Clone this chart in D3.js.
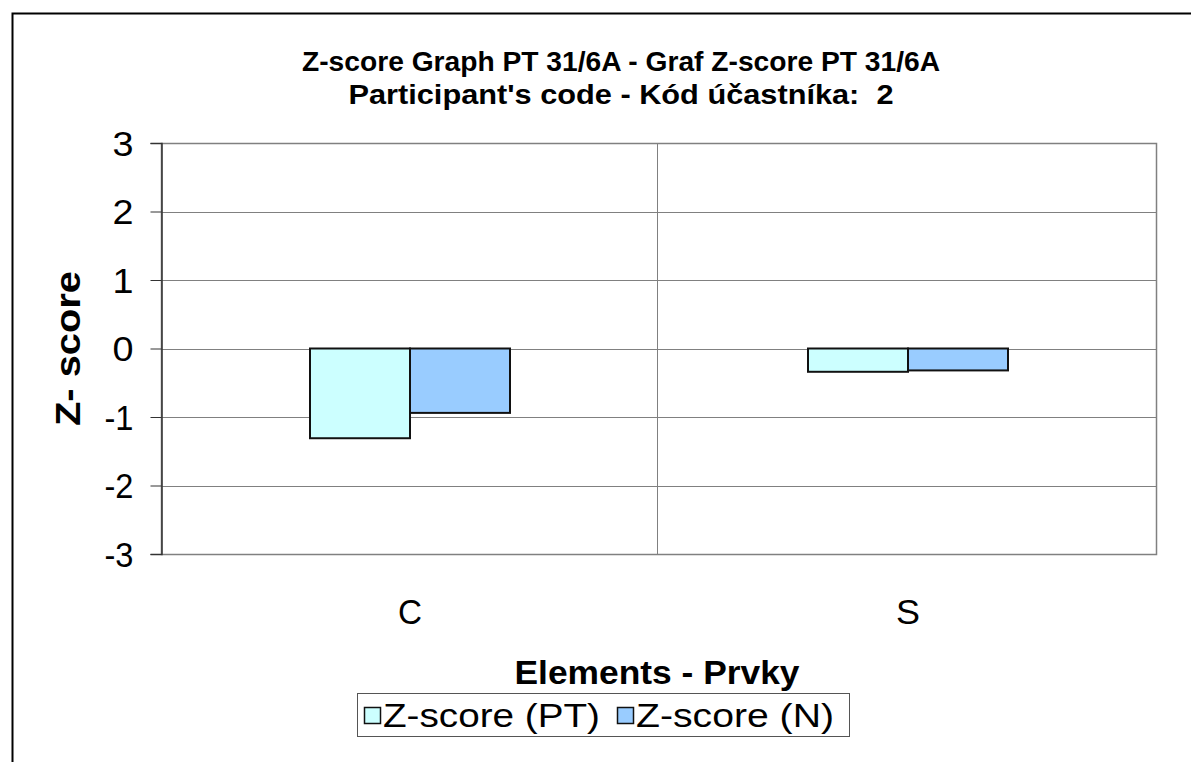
<!DOCTYPE html>
<html>
<head>
<meta charset="utf-8">
<script src="https://cdn.jsdelivr.net/npm/d3@7"></script>
<style>
  body { margin: 0; background: #fff; }
  text { font-family: "Liberation Sans", Arial, sans-serif; }
</style>
</head>
<body>
<script>
let w = 1191;
let h = 762;

// Data
let categories = ["C", "S"];
let seriesNames = ["Z-score (PT)", "Z-score (N)"];
let seriesColors = ["#ccffff", "#99ccff"];
let valuesPT = [-1.31, -0.34];
let valuesN = [-0.94, -0.32];
let yTicks = [-3, -2, -1, 0, 1, 2, 3];

let seriesValues = [valuesPT, valuesN];

// Plot area
let pLeft = 161, pRight = 1157, pTop = 143, pBottom = 554;

let xScale = d3.scaleBand()
  .domain(categories)
  .range([pLeft, pRight]);

let xInner = d3.scaleBand()
  .domain(d3.range(seriesNames.length))
  .range([0, xScale.bandwidth()])
  .paddingOuter(1.49);

let yScale = d3.scaleLinear()
  .domain([-3, 3])
  .range([pBottom, pTop]);

let svg = d3.select("body")
  .append("svg")
  .attr("width", w)
  .attr("height", h);

// outer frame (only top and left visible)
svg.append("path")
  .attr("d", "M12.5," + h + " V13.5 H" + w)
  .attr("fill", "none")
  .attr("stroke", "#000")
  .attr("stroke-width", 2);

// gridlines
svg.selectAll(".grid")
  .data(yTicks)
  .enter()
  .append("line")
  .attr("x1", pLeft)
  .attr("x2", pRight)
  .attr("y1", (d) => Math.round(yScale(d)) + 0.5)
  .attr("y2", (d) => Math.round(yScale(d)) + 0.5)
  .attr("stroke", "#808080")
  .attr("stroke-width", 1);

// category separator
svg.append("line")
  .attr("x1", xScale("S") - 1.5)
  .attr("x2", xScale("S") - 1.5)
  .attr("y1", pTop)
  .attr("y2", pBottom)
  .attr("stroke", "#808080")
  .attr("stroke-width", 1);

// plot border
svg.append("rect")
  .attr("x", pLeft + 0.5)
  .attr("y", Math.round(pTop) + 0.5)
  .attr("width", pRight - pLeft - 1)
  .attr("height", Math.round(pBottom) - Math.round(pTop))
  .attr("fill", "none")
  .attr("stroke", "#808080")
  .attr("stroke-width", 1.5);

// y axis
let yAxis = d3.axisLeft(yScale)
  .tickValues(yTicks)
  .tickSize(11)
  .tickPadding(17)
  .tickFormat((d) => String(d));

let gy = svg.append("g")
  .attr("transform", "translate(" + (pLeft + 0.5) + ",0)")
  .call(yAxis);
gy.select(".domain").attr("stroke", "#333").attr("stroke-width", 1.5);
gy.selectAll(".tick line").attr("stroke", "#333");
gy.selectAll(".tick text")
  .attr("font-size", "35px")
  .attr("fill", "#000")
  .attr("font-family", "'Liberation Sans', Arial, sans-serif")
  .attr("dy", "0.35em")
  .attr("textLength", (d) => d < 0 ? 29 : 21)
  .attr("lengthAdjust", "spacingAndGlyphs");

// bars
seriesValues.forEach((vals, s) => {
  svg.selectAll(".bar" + s)
    .data(vals)
    .enter()
    .append("rect")
    .attr("x", (d, i) => xScale(categories[i]) + xInner(s))
    .attr("y", (d) => yScale(Math.max(0, d)))
    .attr("width", xInner.bandwidth())
    .attr("height", (d) => Math.abs(yScale(d) - yScale(0)))
    .attr("fill", seriesColors[s])
    .attr("stroke", "#111")
    .attr("stroke-width", 2);
});

// x labels
svg.selectAll(".xlab")
  .data(categories)
  .enter()
  .append("text")
  .attr("x", (d) => xScale(d) + xScale.bandwidth() / 2)
  .attr("y", 624)
  .attr("text-anchor", "middle")
  .attr("font-size", "35px")
  .attr("textLength", 24)
  .attr("lengthAdjust", "spacingAndGlyphs")
  .text((d) => d);

// titles
svg.append("text")
  .attr("x", 621)
  .attr("y", 71)
  .attr("text-anchor", "middle")
  .attr("font-size", "27px")
  .attr("font-weight", "bold")
  .attr("textLength", 638)
  .attr("lengthAdjust", "spacingAndGlyphs")
  .text("Z-score Graph PT 31/6A - Graf Z-score PT 31/6A");

svg.append("text")
  .attr("x", 621)
  .attr("y", 104)
  .attr("text-anchor", "middle")
  .attr("font-size", "27px")
  .attr("font-weight", "bold")
  .attr("textLength", 545)
  .attr("lengthAdjust", "spacingAndGlyphs")
  .style("white-space", "pre")
  .text("Participant's code - Kód účastníka:  2");

svg.append("text")
  .attr("transform", "translate(80," + yScale(0) + ") rotate(-90)")
  .attr("text-anchor", "middle")
  .attr("font-size", "35px")
  .attr("font-weight", "bold")
  .attr("textLength", 155)
  .attr("lengthAdjust", "spacingAndGlyphs")
  .text("Z- score");

svg.append("text")
  .attr("x", 657)
  .attr("y", 684)
  .attr("text-anchor", "middle")
  .attr("font-size", "34px")
  .attr("font-weight", "bold")
  .attr("textLength", 285)
  .attr("lengthAdjust", "spacingAndGlyphs")
  .text("Elements - Prvky");

// legend
let legend = svg.append("g");
legend.append("rect")
  .attr("x", 357.5)
  .attr("y", 693.5)
  .attr("width", 492)
  .attr("height", 43)
  .attr("fill", "#fff")
  .attr("stroke", "#555")
  .attr("stroke-width", 1);

let legendX = [364, 617];
let legendW = [217, 198];
seriesNames.forEach((name, s) => {
  legend.append("rect")
    .attr("x", legendX[s] + 0.5)
    .attr("y", 707.5)
    .attr("width", 16)
    .attr("height", 16)
    .attr("fill", seriesColors[s])
    .attr("stroke", "#111")
    .attr("stroke-width", 1.5);
  legend.append("text")
    .attr("x", legendX[s] + 19)
    .attr("y", 727)
    .attr("font-size", "33px")
    .attr("textLength", legendW[s])
    .attr("lengthAdjust", "spacingAndGlyphs")
    .text(name);
});
</script>
</body>
</html>
